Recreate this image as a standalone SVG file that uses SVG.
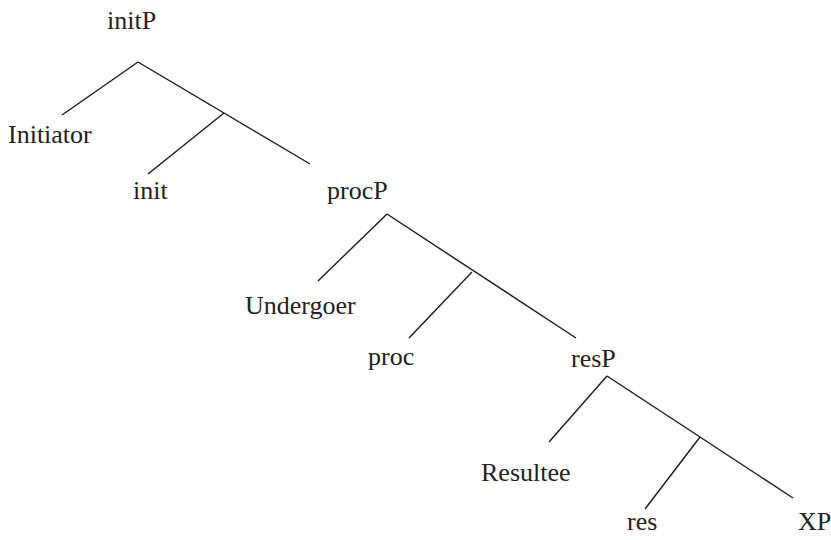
<svg xmlns="http://www.w3.org/2000/svg" width="831" height="540" viewBox="0 0 831 540">
  <style>
    .lbl { font-family: "Liberation Serif", "Times New Roman", serif; font-size: 26px; fill: #222; }
    .edge { stroke: #1a1a1a; stroke-width: 1.4; fill: none; stroke-linecap: butt; }
  </style>
  <rect width="831" height="540" fill="#ffffff"/>

  <!-- branches of the tree -->
  <g id="connectors">
    <path class="edge" d="M138 62 L62 115"/>
    <path class="edge" d="M138 62 L310 164"/>
    <path class="edge" d="M224 113 L148 174"/>

    <path class="edge" d="M387 214 L318 281"/>
    <path class="edge" d="M387 214 L576 338"/>
    <path class="edge" d="M472 272 L409 338"/>

    <path class="edge" d="M607 376 L549 442"/>
    <path class="edge" d="M607 376 L793 498"/>
    <path class="edge" d="M700 437 L645 509"/>
  </g>

  <g id="initP"><text class="lbl" x="107" y="29">initP</text></g>
  <g id="Initiator"><text class="lbl" x="8" y="143">Initiator</text></g>
  <g id="init"><text class="lbl" x="133" y="199">init</text></g>
  <g id="procP"><text class="lbl" x="327" y="199">procP</text></g>
  <g id="Undergoer"><text class="lbl" x="245" y="314">Undergoer</text></g>
  <g id="proc"><text class="lbl" x="368" y="365">proc</text></g>
  <g id="resP"><text class="lbl" x="571" y="367">resP</text></g>
  <g id="Resultee"><text class="lbl" x="481" y="481">Resultee</text></g>
  <g id="res"><text class="lbl" x="627" y="530">res</text></g>
  <g id="XP"><text class="lbl" x="798" y="530">XP</text></g>
</svg>
